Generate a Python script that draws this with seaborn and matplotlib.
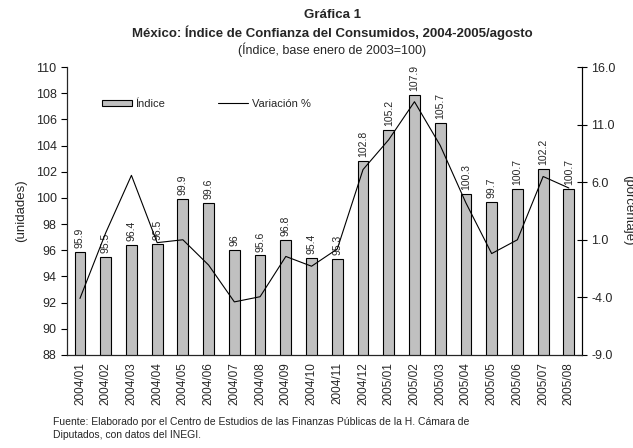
import numpy as np
import pandas as pd
import matplotlib
matplotlib.use("Agg")
import matplotlib.pyplot as plt
import seaborn as sns
from matplotlib.patches import Patch
from matplotlib.lines import Line2D

periodos = ["2004/01", "2004/02", "2004/03", "2004/04", "2004/05", "2004/06",
            "2004/07", "2004/08", "2004/09", "2004/10", "2004/11", "2004/12",
            "2005/01", "2005/02", "2005/03", "2005/04", "2005/05", "2005/06",
            "2005/07", "2005/08"]
indice = [95.9, 95.5, 96.4, 96.5, 99.9, 99.6, 96.0, 95.6, 96.8, 95.4, 95.3,
          102.8, 105.2, 107.9, 105.7, 100.3, 99.7, 100.7, 102.2, 100.7]
etiquetas = ["95.9", "95.5", "96.4", "96.5", "99.9", "99.6", "96", "95.6", "96.8",
             "95.4", "95.3", "102.8", "105.2", "107.9", "105.7", "100.3", "99.7",
             "100.7", "102.2", "100.7"]
variacion = [-4.1, 1.6, 6.6, 0.75, 1.0, -1.2, -4.4, -3.95, -0.45, -1.3, 0.2,
             7.1, 9.7, 13.0, 9.2, 4.2, -0.2, 1.0, 6.5, 5.5]

sns.set_style("white")
plt.rcParams["font.family"] = ["Liberation Sans", "DejaVu Sans"]

df = pd.DataFrame({"periodo": periodos, "indice": indice, "variacion": variacion})

fig = plt.figure(figsize=(6.33, 4.48), dpi=100)
ax = fig.add_axes([0.106, 0.208, 0.813, 0.642])

sns.barplot(data=df, x="periodo", y="indice", ax=ax, color="#c0c0c0",
            edgecolor="black", linewidth=0.8, width=0.42, saturation=1)
for b in ax.patches:
    b.set_facecolor("#c0c0c0")
ax.set_ylim(88, 110)
ax.set_yticks(np.arange(88, 111, 2))
ax.set_xlim(-0.5, len(periodos) - 0.5)
ax.set_xlabel("")
ax.set_ylabel("(unidades)", fontsize=9.5, labelpad=6)
ax.set_xticks(np.arange(len(periodos)))
ax.set_xticklabels(periodos, rotation=90, fontsize=8.5)
ax.set_xticks(np.arange(-0.5, len(periodos), 1), minor=True)
ax.tick_params(axis="x", which="major", length=0, pad=5)
ax.tick_params(axis="x", which="minor", length=5, width=0.8, direction="out", color="black")
ax.tick_params(axis="y", length=4, width=0.8, direction="out", color="black", labelsize=9, left=True)
for s in ["left", "bottom", "right"]:
    ax.spines[s].set_color("black")
    ax.spines[s].set_linewidth(0.8)
ax.spines["top"].set_visible(False)

for i, (v, t) in enumerate(zip(indice, etiquetas)):
    ax.text(i, v + 0.3, t, rotation=90, ha="center", va="bottom", fontsize=7.5)

ax2 = ax.twinx()
sns.lineplot(x=np.arange(len(periodos)), y=variacion, ax=ax2, color="black", linewidth=0.8)
ax2.set_ylim(-9, 16)
ax2.set_yticks(np.arange(-9, 16.1, 5))
ax2.set_yticklabels([f"{v:.1f}" for v in np.arange(-9, 16.1, 5)])
ax2.tick_params(axis="y", length=7, width=0.8, direction="inout", color="black", labelsize=9, right=True)
ax2.spines["top"].set_visible(False)
ax2.spines["right"].set_color("black")
ax2.spines["right"].set_linewidth(0.8)
ax2.set_xlim(-0.5, len(periodos) - 0.5)

fig.text(0.992, 0.53, "(porcentaje)", rotation=-90, ha="center", va="center", fontsize=9.5)

handles = [Patch(facecolor="#c0c0c0", edgecolor="black", linewidth=0.8),
           Line2D([0], [0], color="black", linewidth=0.8)]
fig.legend(handles, ["Índice", "Variación %"], loc="center left",
           bbox_to_anchor=(0.145, 0.768), ncol=2, frameon=False, fontsize=8,
           handlelength=2.7, handleheight=0.5, handletextpad=0.3, columnspacing=4.8)

fig.text(0.525, 0.967, "Gráfica 1", ha="center", va="center", fontsize=9.5, fontweight="bold")
fig.text(0.525, 0.928, "México: Índice de Confianza del Consumidos, 2004-2005/agosto",
         ha="center", va="center", fontsize=9.5, fontweight="bold")
fig.text(0.525, 0.888, "(Índice, base enero de 2003=100)", ha="center", va="center", fontsize=9)

fig.text(0.083, 0.058, "Fuente: Elaborado por el Centro de Estudios de las Finanzas Públicas de la H. Cámara de",
         ha="left", va="center", fontsize=7.5)
fig.text(0.083, 0.028, "Diputados, con datos del INEGI.", ha="left", va="center", fontsize=7.5)

fig.savefig("out.png", dpi=100)
